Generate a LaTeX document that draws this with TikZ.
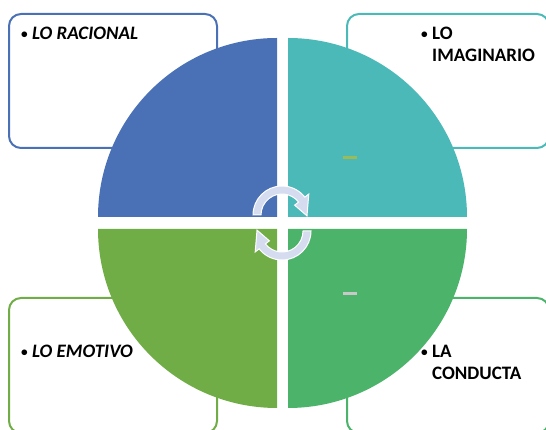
\documentclass[tikz,border=0pt]{standalone}
\usepackage{fontspec}
\setmainfont{Carlito}
\usetikzlibrary{positioning}
\definecolor{azul}{HTML}{4A71B5}
\definecolor{turquesa}{HTML}{4BB9B7}
\definecolor{verdeA}{HTML}{71AD47}
\definecolor{verdeB}{HTML}{4CB36A}
\definecolor{oliva}{HTML}{9BBB59}
\definecolor{gris}{HTML}{C8C8C8}
\definecolor{lila}{HTML}{D6DCF0}
\newcommand\bul{\makebox[11pt][l]{\raisebox{1.5pt}{\scalebox{0.7}{\upshape\textbullet}}}}

\begin{document}
\begin{tikzpicture}[x=1pt, y=1pt,
    cuadro/.style={line width=2pt, rounded corners=12pt},
    texto/.style={anchor=base west, inner sep=0pt, font=\fontsize{19}{21.5}\selectfont\bfseries},
    flecha/.style={fill=lila, draw=white, line width=1pt}]
    				\useasboundingbox (0,0) rectangle (546,430);
    				% cuadros
    				\draw [cuadro, azul] (9,282) rectangle (217,416);
    				\draw [cuadro, turquesa] (347,282) rectangle (549,416);
    				\draw [cuadro, verdeA] (9,-3) rectangle (217,132);
    				\draw [cuadro, verdeB] (347,-3) rectangle (549,132);
    				
    				% cuadrantes
    				\fill [azul] (277,213) -- (277,392) arc[start angle=90, end angle=180, radius=179pt] -- cycle;
    				\fill [turquesa] (288,213) -- (467,213) arc[start angle=0, end angle=90, radius=179pt] -- cycle;
    				\fill [verdeA] (277,201) -- (98,201) arc[start angle=180, end angle=270, radius=179pt] -- cycle;
    				\fill [verdeB] (288,201) -- (288,22) arc[start angle=270, end angle=360, radius=179pt] -- cycle;
    				\fill [oliva] (343,271) rectangle (357,274);
    				\fill [gris] (343,135) rectangle (357,138);
    				
    				% flechas del centro
    				\coordinate (c1) at (282,215);
    				\coordinate (c2) at (282,199);
    				\draw [flecha, shift={(c1)}] (180:21pt) -- (180:29pt) arc[start angle=180, end angle=38, radius=29pt]
    				-- (38:34pt) -- (-2:25pt) -- (38:16pt) -- (38:21pt) arc[start angle=38, end angle=180, radius=21pt] -- cycle;
    				\draw [flecha, shift={(c2)}] (0:21pt) -- (0:29pt) arc[start angle=0, end angle=-142, radius=29pt]
    				-- (-142:34pt) -- (-182:25pt) -- (-142:16pt) -- (-142:21pt) arc[start angle=-142, end angle=0, radius=21pt] -- cycle;
    				
    				% textos
    				\node [texto] (racional) at (21,390) {\bul\itshape LO RACIONAL};
    				\node [texto] (imaginario) at (421,390) {\begin{tabular}[t]{@{}l@{}l@{}}\bul & LO\\ & IMAGINARIO\end{tabular}};
    				\node [texto] (emotivo) at (21,72) {\bul\itshape LO EMOTIVO};
    				\node [texto] (conducta) at (421,72) {\begin{tabular}[t]{@{}l@{}l@{}}\bul & LA\\ & CONDUCTA\end{tabular}};
    				\end{tikzpicture}
\end{document}
